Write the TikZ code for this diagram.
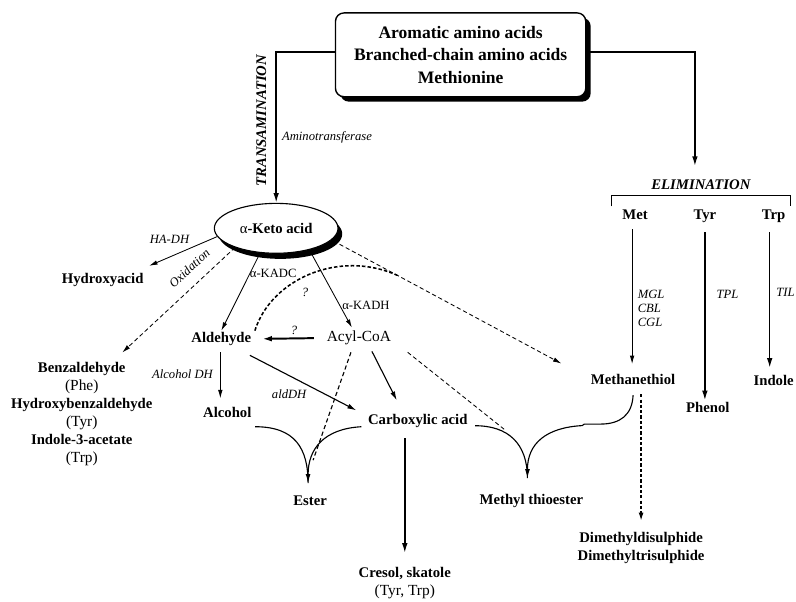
\documentclass[tikz,border=0pt]{standalone}
\usepackage{fontspec}
\setmainfont{Liberation Serif}
\usetikzlibrary{arrows.meta,calc,shadows,shapes.geometric}

\begin{document}
\begin{tikzpicture}[x=0.025cm,y=-0.025cm,
  cpd/.style={font=\fontsize{10.5}{12}\selectfont\bfseries,inner sep=1pt,text height=7.5pt,text depth=2pt},
  plain/.style={font=\fontsize{11}{12}\selectfont,inner sep=1pt,text height=7.5pt,text depth=2pt},
  enz/.style={font=\fontsize{9}{10}\selectfont\itshape,inner sep=1pt},
  enzup/.style={font=\fontsize{9}{10}\selectfont,inner sep=1pt},
  route/.style={font=\fontsize{10.5}{12}\selectfont\bfseries\itshape,inner sep=1pt,text height=7.5pt,text depth=2pt},
  thinarr/.style={line width=0.6pt,-{Latex[length=6pt,width=3.2pt]}},
  midarr/.style={line width=0.8pt,-{Latex[length=6.5pt,width=3.5pt]}},
  midln/.style={line width=0.8pt},
  thickarr/.style={line width=1.1pt,-{Latex[length=7pt,width=4pt]}},
  dasharr/.style={line width=0.6pt,dash pattern=on 3pt off 2pt,-{Latex[length=6pt,width=3.2pt]}},
  dashln/.style={line width=0.6pt,dash pattern=on 3pt off 2pt},
  dashthick/.style={line width=1.1pt,dash pattern=on 2.5pt off 1.5pt},
  dotarr/.style={line width=1.1pt,dash pattern=on 2.2pt off 1.6pt,-{Latex[length=6pt,width=3.5pt]}}]
  \fill[white] (0,0) rectangle (796,603);

  % sources
  \node[draw,line width=1pt,rounded corners=6pt,fill=white,minimum width=6.275cm,minimum height=2.1cm,
        align=center,font=\fontsize{12.5}{16}\selectfont\bfseries,
        drop shadow={fill=black,opacity=1,shadow xshift=3.5pt,shadow yshift=-3.5pt}] (src) at (462,55)
        {Aromatic amino acids\\Branched-chain amino acids\\Methionine};
  \node[ellipse,draw,line width=0.8pt,fill=white,minimum width=3.1cm,minimum height=1.25cm,inner sep=0pt,
        font=\fontsize{10.5}{12}\selectfont\bfseries,
        drop shadow={fill=black,opacity=1,shadow xshift=3pt,shadow yshift=-4pt}] (keto) at (277,229)
        {{\mdseries α}-Keto acid};

  \node[route,rotate=90] (trans) at (263,121) {TRANSAMINATION};
  \node[enz] (amino) at (328,138) {Aminotransferase};
  \node[route] (elim) at (703,186) {ELIMINATION};

  % transamination side
  \node[cpd] (hyd) at (103,280) {Hydroxyacid};
  \node[enz] (hadh) at (170,240) {HA-DH};
  \node[enz,rotate=43] (oxid) at (190,269) {Oxidation};
  \foreach \nm/\txt/\yy in {benz/Benzaldehyde/370,hbenz/Hydroxybenzaldehyde/406,iaa/Indole-3-acetate/442}
    \node[cpd] (\nm) at (82,\yy) {\txt};
  \foreach \nm/\txt/\yy in {phe/Phe/388,tyrb/Tyr/424,trpb/Trp/460}
    \node[plain] (\nm) at (82,\yy) {(\txt)};
  \node[enzup] (kadc) at (274,274) {α-KADC};
  \node[enzup] (kadh) at (367,306) {α-KADH};
  \node[cpd] (ald) at (222,340) {Aldehyde};
  \node[plain] (acyl) at (360,339) {Acyl-CoA};
  \node[enz] (q1) at (295,331) {?};
  \node[enz] (q2) at (306,293) {?};
  \node[enz] (aldh) at (183,375) {Alcohol DH};
  \node[enz] (alddh) at (290,395) {aldDH};
  \node[cpd] (alc) at (228,415) {Alcohol};
  \node[cpd] (carb) at (419,422) {Carboxylic acid};
  \node[cpd] (ester) at (311,503) {Ester};
  \node[cpd] (cres) at (406,575) {Cresol, skatole};
  \node[plain] (cresb) at (406,593) {(Tyr, Trp)};
  \node[cpd] (mte) at (533,502) {Methyl thioester};

  % elimination side
  \foreach \nm/\amino/\xx in {met/Met/637,tyr/Tyr/707,trp/Trp/776}
    \node[cpd] (\nm) at (\xx,216) {\amino};
  \node[enz,anchor=west,align=left] (mgl) at (638,309) {MGL\\CBL\\CGL};
  \node[enz,anchor=west] (tpl) at (717,295) {TPL};
  \node[enz,anchor=west] (til) at (777,293) {TIL};
  \node[cpd] (meth) at (635,382) {Methanethiol};
  \node[cpd] (phenol) at (710,410) {Phenol};
  \node[cpd] (indole) at (776,383) {Indole};
  \node[cpd] (dms1) at (643,540) {Dimethyldisulphide};
  \node[cpd] (dms2) at (643,558) {Dimethyltrisulphide};

  \draw[thickarr] ($(src.west)+(0,-3)$) -| (keto.north);
  \draw[thickarr] ($(src.east)+(0,-3)$) -| ($(elim.north)+(-6,-11)$);
  \draw[line width=0.8pt] ($(elim)+(-90,21)$) -- ++(0,-11) -- ++(180,0) -- ++(0,11);
  \draw[thinarr,shorten <=4pt,shorten >=6pt] ($(met.south)+(-3,0)$) -- ($(meth.north)+(-1,0)$);
  \draw[thickarr,shorten <=6pt] (tyr.south) -- (tyr.south |- phenol.north);
  \draw[thickarr,shorten <=6pt,shorten >=4pt] ($(trp.south)+(-4,0)$) -- ($(trp.south |- indole.north)+(-4,0)$);
  \draw[dotarr] ($(meth.south)+(8,5)$) -- ($(dms1.north)+(0,-9)$);

  \draw[thinarr] (keto.188) -- ($(hyd.north east)+(4,-5)$);
  \draw[dasharr] (keto.205) -- ($(benz.north east)+(-5,-8)$);
  \draw[thinarr] (keto.237) -- (ald.north);
  \draw[thinarr] (keto.-33) -- ($(acyl.north)+(-7,-2)$);
  \draw[thickarr,line width=1.4pt,shorten <=8pt,shorten >=6.5pt] (acyl.west) -- (ald.east);
  \draw[thinarr,shorten <=3.5pt,shorten >=5pt] ($(ald.south)+(-1,0)$) -- ($(ald.south |- alc.north)+(-1,0)$);
  \draw[midarr] ($(ald.south east)+(-3,8)$) -- ($(carb.north west)+(-10,-2)$);
  \draw[midarr] ($(acyl.south)+(13,5)$) -- ($(carb.north)+(-21,-12)$);
  \draw[dashln,line width=0.8pt] ($(acyl.south)+(-8,6)$) -- ($(ester.north)+(3,-33)$);
  \draw[dashln] ($(acyl.south east)+(15,6)$) -- ($(mte.north)+(-26,-62)$);

  \coordinate (ks) at ($(keto.east)+(1,16)$);
  \coordinate (mt) at ($(meth.north west)+(-28,-9)$);
  \draw[dasharr] (ks) -- (mt);
  \draw[dashthick] ($(ald.north east)+(2,0)$) .. controls (272,280) and (340,250) .. ($(ks)!0.26!(mt)$);

  % esterification
  \coordinate (etip) at ($(ester.north)+(-2,-10)$);
  \draw[midln] ($(alc.east)+(2,13)$) .. controls +(40,0) and +(0,-35) .. (etip);
  \draw[midarr] ($(carb.west)+(-5,6)$) .. controls +(-37,2) and +(0,-35) .. (etip);
  \coordinate (mtip) at ($(mte.north)+(-4,-14)$);
  \draw[midln] ($(carb.east)+(6,5)$) .. controls +(33,0) and +(0,-35) .. (mtip);
  \draw[midarr] ($(meth.south)+(0,6)$) .. controls +(-1,20) and +(20,0) .. ++(-33,29) -- ++(-16,0) -- ++(-2,1.5)
        .. controls +(-36,2) and +(0,-35) .. (mtip);
  \draw[thickarr] ($(cres.north |- carb.south)+(0,9)$) -- ($(cres.north)+(0,-12)$);
\end{tikzpicture}
\end{document}
